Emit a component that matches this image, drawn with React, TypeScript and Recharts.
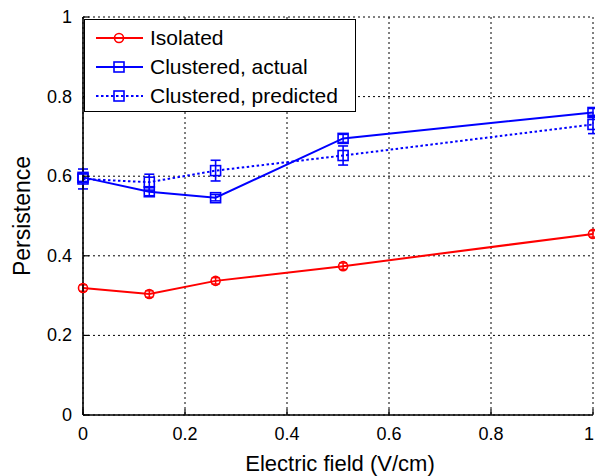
import React from 'react';
import { LineChart, Line, XAxis, YAxis, CartesianGrid, ErrorBar, Legend } from 'recharts';

const fieldValues = [0, 0.13, 0.26, 0.51, 1];
const isolatedValues = [0.319, 0.304, 0.337, 0.374, 0.455];
const isolatedErrors = [0.008, 0.008, 0.008, 0.008, 0.008];
const actualValues = [0.597, 0.561, 0.546, 0.695, 0.76];
const actualErrors = [0.01, 0.01, 0.008, 0.01, 0.01];
const predictedValues = [0.593, 0.585, 0.614, 0.652, 0.73];
const predictedErrors = [0.025, 0.02, 0.026, 0.024, 0.023];
const xTicks = [0, 0.2, 0.4, 0.6, 0.8, 1];
const yTicks = [0, 0.2, 0.4, 0.6, 0.8, 1];
const xTickLabels = ['0', '0.2', '0.4', '0.6', '0.8', '1'];
const yTickLabels = ['0', '0.2', '0.4', '0.6', '0.8', '1'];
const seriesNames = ['Isolated', 'Clustered, actual', 'Clustered, predicted'];
const xTitle = 'Electric field (V/cm)';
const yTitle = 'Persistence';

const data = fieldValues.map((x, i) => ({
  x,
  isolated: isolatedValues[i],
  isolatedErr: isolatedErrors[i],
  actual: actualValues[i],
  actualErr: actualErrors[i],
  predicted: predictedValues[i],
  predictedErr: predictedErrors[i],
}));

const RED = '#ff0000';
const BLUE = '#0000ff';
const FONT = '"Liberation Sans", Arial, Helvetica, sans-serif';
const TICK_LEN = 6;
const CHART_W = 595;

const xLabelOf = (v: number) => xTickLabels[xTicks.indexOf(v)] ?? String(v);
const yLabelOf = (v: number) => yTickLabels[yTicks.indexOf(v)] ?? String(v);

const BottomTick = (props: any) => {
  const { x, y, payload } = props;
  const nearEdge = x > CHART_W - 8;
  return (
    <g>
      <line x1={x} y1={y} x2={x} y2={y - TICK_LEN} stroke="#000" strokeWidth={1.2} />
      <text
        x={nearEdge ? CHART_W - 1 : x}
        y={y + 19}
        textAnchor={nearEdge ? 'end' : 'middle'}
        dominantBaseline="central"
        fontSize={18}
        fill="#000"
      >
        {xLabelOf(payload.value)}
      </text>
    </g>
  );
};

const TopTick = (props: any) => {
  const { x, y } = props;
  return <line x1={x} y1={y} x2={x} y2={y + TICK_LEN} stroke="#000" strokeWidth={1.2} />;
};

const LeftTick = (props: any) => {
  const { x, y, payload } = props;
  return (
    <g>
      <line x1={x} y1={y} x2={x + TICK_LEN} y2={y} stroke="#000" strokeWidth={1.2} />
      <text x={x - 11} y={y} textAnchor="end" dominantBaseline="central" fontSize={18} fill="#000">
        {yLabelOf(payload.value)}
      </text>
    </g>
  );
};

const RightTick = (props: any) => {
  const { x, y } = props;
  return <line x1={x} y1={y} x2={x - TICK_LEN} y2={y} stroke="#000" strokeWidth={1.2} />;
};

const XTitle = (props: any) => {
  const vb = props.viewBox || {};
  return (
    <text x={vb.x + vb.width / 2 + 2} y={vb.y + 48} textAnchor="middle" dominantBaseline="central" fontSize={22} fill="#000">
      {xTitle}
    </text>
  );
};

const YTitle = (props: any) => {
  const vb = props.viewBox || {};
  const cx = vb.x + 22;
  const cy = vb.y + vb.height / 2;
  return (
    <text x={cx} y={cy} transform={`rotate(-90, ${cx}, ${cy})`} textAnchor="middle" dominantBaseline="central" fontSize={23} fill="#000">
      {yTitle}
    </text>
  );
};

const CircleDot = (props: any) => {
  const { cx, cy, index } = props;
  if (cx == null || cy == null) return <g key={index} />;
  return <circle key={index} cx={cx} cy={cy} r={4.5} stroke={RED} strokeWidth={1.6} fill="none" />;
};

const SquareDot = (props: any) => {
  const { cx, cy, index } = props;
  if (cx == null || cy == null) return <g key={index} />;
  return <rect key={index} x={cx - 5} y={cy - 5} width={10} height={10} stroke={BLUE} strokeWidth={1.6} fill="none" />;
};

const legendItems = [
  { name: seriesNames[0], color: RED, dash: undefined as string | undefined, marker: 'circle' },
  { name: seriesNames[1], color: BLUE, dash: undefined as string | undefined, marker: 'square' },
  { name: seriesNames[2], color: BLUE, dash: '2.5 2.5', marker: 'square' },
];

const renderLegend = () => (
  <div
    style={{
      width: 272,
      height: 93,
      boxSizing: 'border-box',
      border: '1.2px solid #000',
      background: '#fff',
      position: 'relative',
      fontFamily: FONT,
    }}
  >
    {legendItems.map((it, i) => (
      <div
        key={it.name}
        style={{ position: 'absolute', left: 0, top: 3 + i * 29.3, height: 29, width: '100%', display: 'flex', alignItems: 'center' }}
      >
        <svg width={62} height={20} style={{ marginLeft: 8, display: 'block' }}>
          <line x1={3} y1={10} x2={50} y2={10} stroke={it.color} strokeWidth={2} strokeDasharray={it.dash} />
          {it.marker === 'circle' ? (
            <circle cx={26} cy={10} r={4.5} stroke={it.color} strokeWidth={1.6} fill="none" />
          ) : (
            <rect x={21} y={5} width={10} height={10} stroke={it.color} strokeWidth={1.6} fill="none" />
          )}
        </svg>
        <span style={{ fontSize: 21, color: '#000', marginLeft: -5, whiteSpace: 'nowrap' }}>{it.name}</span>
      </div>
    ))}
  </div>
);

export default function App() {
  return (
    <div style={{ position: 'absolute', left: 0, top: 0, width: 595, height: 476, fontFamily: FONT, background: '#fff' }}>
      <LineChart width={CHART_W} height={476} data={data} margin={{ top: 17, right: 2, bottom: 0, left: 0 }}>
        <CartesianGrid stroke="#000" strokeDasharray="2 3" strokeWidth={1} />
        <XAxis
          dataKey="x"
          type="number"
          domain={[0, 1]}
          ticks={xTicks}
          interval={0}
          height={61}
          tickSize={0}
          tickMargin={0}
          tickLine={false}
          tick={<BottomTick />}
          axisLine={{ stroke: '#000', strokeWidth: 1.6 }}
          label={<XTitle />}
        />
        <XAxis
          xAxisId="top"
          dataKey="x"
          orientation="top"
          type="number"
          domain={[0, 1]}
          ticks={xTicks}
          interval={0}
          height={0}
          tickSize={0}
          tickMargin={0}
          tickLine={false}
          tick={<TopTick />}
          axisLine={{ stroke: '#000', strokeWidth: 1.6 }}
        />
        <YAxis
          type="number"
          domain={[0, 1]}
          ticks={yTicks}
          interval={0}
          width={83}
          tickSize={0}
          tickMargin={0}
          tickLine={false}
          tick={<LeftTick />}
          axisLine={{ stroke: '#000', strokeWidth: 1.6 }}
          label={<YTitle />}
        />
        <YAxis
          yAxisId="right"
          orientation="right"
          type="number"
          domain={[0, 1]}
          ticks={yTicks}
          interval={0}
          width={0}
          tickSize={0}
          tickMargin={0}
          tickLine={false}
          tick={<RightTick />}
          axisLine={{ stroke: '#000', strokeWidth: 1.6 }}
        />
        <Legend
          layout="horizontal"
          verticalAlign="middle"
          align="center"
          wrapperStyle={{ left: 84, top: 19, width: 272, height: 93 }}
          content={renderLegend}
        />
        <Line
          dataKey="isolated"
          name={seriesNames[0]}
          stroke={RED}
          strokeWidth={2}
          dot={<CircleDot />}
          activeDot={false}
          isAnimationActive={false}
        >
          <ErrorBar dataKey="isolatedErr" direction="y" width={4} stroke={RED} strokeWidth={1.5} />
        </Line>
        <Line
          dataKey="predicted"
          name={seriesNames[2]}
          stroke={BLUE}
          strokeWidth={2}
          strokeDasharray="2.5 2.5"
          dot={<SquareDot />}
          activeDot={false}
          isAnimationActive={false}
        >
          <ErrorBar dataKey="predictedErr" direction="y" width={5} stroke={BLUE} strokeWidth={1.6} />
        </Line>
        <Line
          dataKey="actual"
          name={seriesNames[1]}
          stroke={BLUE}
          strokeWidth={2}
          dot={<SquareDot />}
          activeDot={false}
          isAnimationActive={false}
        >
          <ErrorBar dataKey="actualErr" direction="y" width={5} stroke={BLUE} strokeWidth={1.5} />
        </Line>
      </LineChart>
    </div>
  );
}
